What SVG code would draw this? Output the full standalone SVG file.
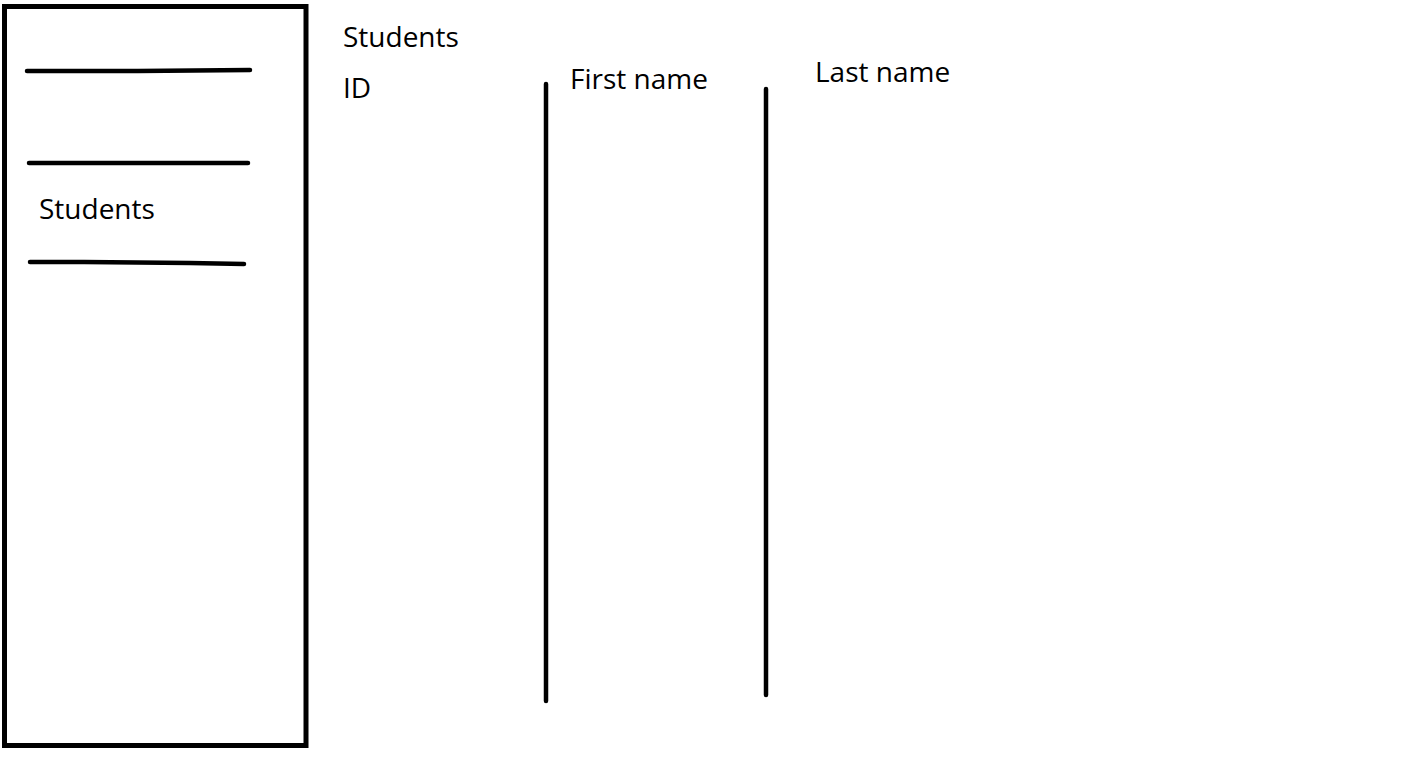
<svg xmlns="http://www.w3.org/2000/svg" width="1409" height="757" viewBox="0 0 1409 757">
<style>
.t{font-family:"Open Sans","Noto Sans",sans-serif;font-size:28px;fill:#000}
.ln{stroke:#000;stroke-width:4.5;stroke-linecap:round;fill:none}
</style>
<rect width="1409" height="757" fill="#fff"/>
<g id="students-table">
<rect x="4.5" y="6.5" width="301.5" height="739" fill="none" stroke="#000" stroke-width="5"/>
<path class="ln" d="M27 71 L138 71 L250 70"/>
<path class="ln" d="M29 163 L248 163"/>
<path class="ln" d="M30 262 L84 262 L190 263 L244 264"/>
<text class="t" x="39" y="219">Students</text>
</g>
<g id="columns">
<text class="t" x="343" y="47">Students</text>
<text class="t" x="343" y="98">ID</text>
<text class="t" x="570" y="89">First name</text>
<text class="t" x="815" y="82">Last name</text>
</g>
<g id="connectors">
<line class="ln" x1="546" y1="84" x2="546" y2="701"/>
<line class="ln" x1="766" y1="89" x2="766" y2="695"/>
</g>
</svg>
